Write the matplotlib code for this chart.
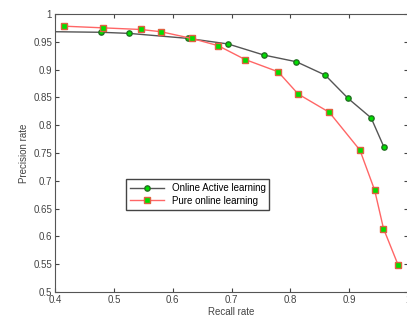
import matplotlib
matplotlib.use('Agg')
from matplotlib import pyplot as plt

plt.rcParams['font.family'] = ['Liberation Sans', 'DejaVu Sans']

# Online Active learning (first point is where the line enters at the left edge)
recall_active = [0.40, 0.478, 0.526, 0.626, 0.694, 0.755, 0.810, 0.859, 0.898, 0.937, 0.959]
prec_active = [0.968, 0.967, 0.965, 0.956, 0.946, 0.926, 0.914, 0.890, 0.848, 0.813, 0.760]

# Pure online learning
recall_pure = [0.415, 0.481, 0.546, 0.580, 0.632, 0.677, 0.723, 0.779, 0.813, 0.866,
               0.918, 0.943, 0.958, 0.983]
prec_pure = [0.978, 0.975, 0.972, 0.968, 0.956, 0.943, 0.918, 0.896, 0.856, 0.823,
             0.755, 0.683, 0.614, 0.548]

xticks = [0.4, 0.5, 0.6, 0.7, 0.8, 0.9, 1]
yticks = [0.5, 0.55, 0.6, 0.65, 0.7, 0.75, 0.8, 0.85, 0.9, 0.95, 1]


def plot():
    fig = plt.figure(figsize=(4.07, 3.24), dpi=100)
    ax = fig.add_axes([0.135, 0.099, 0.868, 0.858])
    ax.plot(recall_active, prec_active, '-o', color='#555555', lw=1.0,
            markersize=3.8, markerfacecolor='#00e000', markeredgecolor='#207020',
            markevery=list(range(1, len(recall_active))),
            label='Online Active learning')
    ax.plot(recall_pure, prec_pure, '-s', color='#ff6666', lw=1.0,
            markersize=4.2, markerfacecolor='#00e000', markeredgecolor='#e06040',
            label='Pure online learning')
    ax.set_xlim(0.4, 1.0)
    ax.set_ylim(0.5, 1.0)
    ax.set_xticks(xticks)
    ax.set_xticklabels(['0.4', '0.5', '0.6', '0.7', '0.8', '0.9', '1'])
    ax.set_yticks(yticks)
    ax.set_yticklabels(['0.5', '0.55', '0.6', '0.65', '0.7', '0.75', '0.8',
                        '0.85', '0.9', '0.95', '1'])
    ax.tick_params(direction='in', top=True, right=True, labelsize=7,
                   colors='#444444', length=3, pad=2)
    for s in ax.spines.values():
        s.set_color('#555555')
    ax.set_xlabel('Recall rate', fontsize=7, color='#444444', labelpad=2)
    ax.set_ylabel('Precision rate', fontsize=7, color='#444444', labelpad=3)
    leg = ax.legend(loc='upper left', bbox_to_anchor=(0.201, 0.406), fontsize=7,
                    fancybox=False, framealpha=1, borderpad=0.4, borderaxespad=0,
                    handlelength=3.5, labelspacing=0.3)
    leg.get_frame().set_edgecolor('#444444')
    fig.savefig('out.png', dpi=100)


if __name__ == '__main__':
    plot()
